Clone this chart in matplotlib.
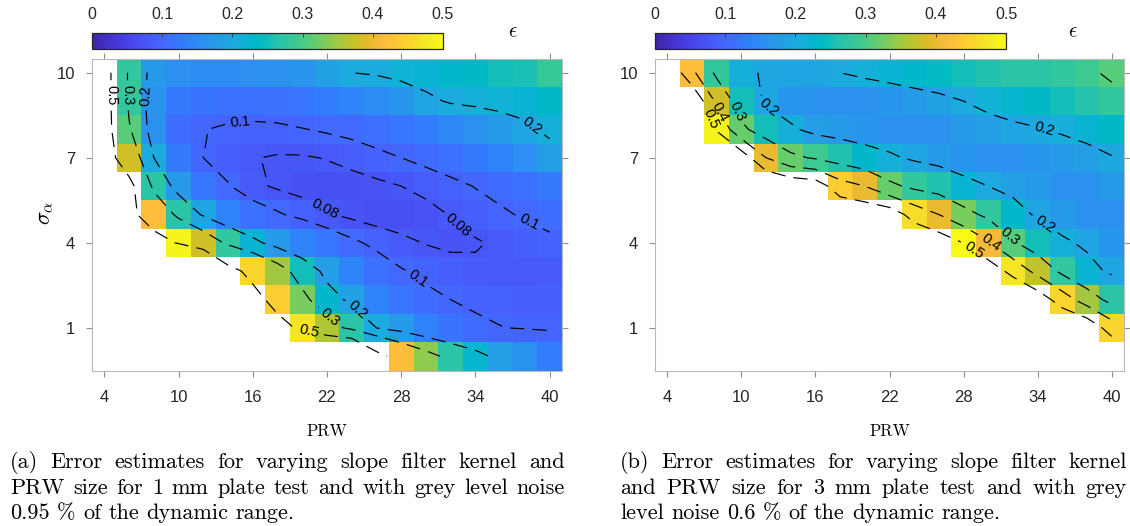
import numpy as np
import matplotlib
matplotlib.use('Agg')
import matplotlib.pyplot as plt
from matplotlib.colors import LinearSegmentedColormap

plt.rcParams['font.family'] = ['Liberation Sans', 'DejaVu Sans']
plt.rcParams['mathtext.fontset'] = 'cm'

# dados (linhas de sigma=10 ate sigma=0)
prw = [4, 6, 8, 10, 12, 14, 16, 18, 20, 22, 24, 26, 28, 30, 32, 34, 36, 38, 40]
sigma = [10, 9, 8, 7, 6, 5, 4, 3, 2, 1, 0]

# celulas brancas = erro acima de 0.5 (fora da escala)
eps_1mm = [
    [0.58, 0.28, 0.17, 0.155, 0.15, 0.15, 0.155, 0.16, 0.165, 0.185, 0.20, 0.205, 0.215, 0.22, 0.23, 0.235, 0.25, 0.255, 0.285],
    [0.58, 0.28, 0.16, 0.125, 0.118, 0.115, 0.115, 0.117, 0.12, 0.13, 0.14, 0.15, 0.165, 0.19, 0.205, 0.21, 0.215, 0.22, 0.235],
    [0.58, 0.31, 0.16, 0.11, 0.101, 0.096, 0.094, 0.095, 0.099, 0.103, 0.107, 0.112, 0.12, 0.13, 0.145, 0.16, 0.175, 0.19, 0.21],
    [0.60, 0.38, 0.20, 0.125, 0.10, 0.088, 0.081, 0.078, 0.078, 0.081, 0.087, 0.094, 0.10, 0.107, 0.115, 0.125, 0.135, 0.155, 0.18],
    [0.90, 0.56, 0.27, 0.17, 0.12, 0.102, 0.085, 0.077, 0.072, 0.07, 0.071, 0.075, 0.08, 0.086, 0.093, 0.101, 0.108, 0.115, 0.125],
    [0.90, 0.54, 0.42, 0.27, 0.19, 0.14, 0.115, 0.103, 0.092, 0.082, 0.075, 0.07, 0.069, 0.073, 0.081, 0.089, 0.096, 0.103, 0.11],
    [0.90, 0.90, 0.56, 0.49, 0.38, 0.28, 0.22, 0.17, 0.14, 0.12, 0.105, 0.094, 0.085, 0.079, 0.076, 0.078, 0.083, 0.088, 0.094],
    [0.90, 0.90, 0.90, 0.90, 0.90, 0.56, 0.45, 0.35, 0.25, 0.18, 0.14, 0.115, 0.102, 0.094, 0.088, 0.084, 0.083, 0.083, 0.084],
    [0.90, 0.90, 0.90, 0.90, 0.90, 0.90, 0.56, 0.44, 0.33, 0.23, 0.185, 0.14, 0.12, 0.107, 0.10, 0.094, 0.09, 0.088, 0.088],
    [0.90, 0.90, 0.90, 0.90, 0.90, 0.90, 0.90, 0.56, 0.47, 0.36, 0.27, 0.20, 0.17, 0.135, 0.118, 0.107, 0.101, 0.098, 0.097],
    [0.90, 0.90, 0.90, 0.90, 0.90, 0.90, 0.90, 0.90, 0.90, 0.90, 0.90, 0.56, 0.42, 0.34, 0.27, 0.225, 0.18, 0.16, 0.13],
]

eps_3mm = [
    [0.60, 0.42, 0.28, 0.21, 0.195, 0.19, 0.19, 0.20, 0.21, 0.22, 0.23, 0.24, 0.25, 0.26, 0.27, 0.27, 0.28, 0.29, 0.31],
    [0.70, 0.60, 0.38, 0.25, 0.19, 0.165, 0.16, 0.16, 0.16, 0.165, 0.175, 0.185, 0.20, 0.215, 0.225, 0.235, 0.25, 0.265, 0.28],
    [0.80, 0.65, 0.49, 0.32, 0.25, 0.21, 0.18, 0.17, 0.165, 0.16, 0.16, 0.16, 0.17, 0.18, 0.19, 0.197, 0.207, 0.22, 0.235],
    [0.90, 0.80, 0.65, 0.56, 0.40, 0.32, 0.29, 0.26, 0.23, 0.21, 0.19, 0.175, 0.165, 0.16, 0.16, 0.165, 0.17, 0.18, 0.197],
    [0.90, 0.90, 0.80, 0.70, 0.62, 0.58, 0.56, 0.44, 0.40, 0.32, 0.28, 0.26, 0.22, 0.20, 0.18, 0.17, 0.16, 0.16, 0.17],
    [0.90, 0.90, 0.90, 0.90, 0.80, 0.70, 0.65, 0.60, 0.58, 0.56, 0.46, 0.40, 0.33, 0.28, 0.23, 0.19, 0.17, 0.16, 0.16],
    [0.90, 0.90, 0.90, 0.90, 0.90, 0.90, 0.90, 0.80, 0.70, 0.65, 0.60, 0.56, 0.498, 0.41, 0.31, 0.25, 0.21, 0.19, 0.165],
    [0.90, 0.90, 0.90, 0.90, 0.90, 0.90, 0.90, 0.90, 0.90, 0.90, 0.80, 0.70, 0.62, 0.56, 0.47, 0.37, 0.28, 0.22, 0.19],
    [0.90, 0.90, 0.90, 0.90, 0.90, 0.90, 0.90, 0.90, 0.90, 0.90, 0.90, 0.90, 0.80, 0.70, 0.62, 0.56, 0.45, 0.35, 0.27],
    [0.90, 0.90, 0.90, 0.90, 0.90, 0.90, 0.90, 0.90, 0.90, 0.90, 0.90, 0.90, 0.90, 0.90, 0.80, 0.70, 0.62, 0.58, 0.45],
    [0.90, 0.90, 0.90, 0.90, 0.90, 0.90, 0.90, 0.90, 0.90, 0.90, 0.90, 0.90, 0.90, 0.90, 0.90, 0.90, 0.80, 0.70, 0.62],
]

niveis_1mm = [0.08, 0.1, 0.2, 0.3, 0.5]
niveis_3mm = [0.2, 0.3, 0.4, 0.5]

# onde ficam os rotulos das curvas
rotulos_1mm = [(4.5, 9.2), (20.5, 0.8),
               (5.9, 9.2), (22.3, 1.4),
               (7.5, 9.2), (38.0, 7.8), (24.6, 1.7),
               (15.0, 8.1), (38.3, 4.7), (29.3, 2.7),
               (21.8, 5.2), (32.4, 4.5)]
rotulos_3mm = [(7.2, 8.3), (28.9, 3.8),
               (7.8, 8.5), (30.0, 3.9),
               (9.5, 8.6), (31.5, 4.1),
               (12.3, 8.8), (34.5, 8.0), (34.5, 4.6)]

xticks = [4, 10, 16, 22, 28, 34, 40]
yticks = [1, 4, 7, 10]
cb_ticks = [0, 0.1, 0.2, 0.3, 0.4, 0.5]
cb_labels = ['0', '0.1', '0.2', '0.3', '0.4', '0.5']

legenda_a = ["(a) Error estimates for varying slope filter kernel and",
             "PRW size for 1 mm plate test and with grey level noise",
             "0.95 % of the dynamic range."]
legenda_b = ["(b) Error estimates for varying slope filter kernel",
             "and PRW size for 3 mm plate test and with grey",
             "level noise 0.6 % of the dynamic range."]

# parula (64 cores)
parula_cores = [
    [0.2422, 0.1504, 0.6603], [0.2504, 0.1650, 0.7076], [0.2578, 0.1818, 0.7511], [0.2647, 0.1978, 0.7952],
    [0.2706, 0.2147, 0.8364], [0.2751, 0.2342, 0.8710], [0.2783, 0.2559, 0.8991], [0.2803, 0.2782, 0.9221],
    [0.2813, 0.3006, 0.9414], [0.2810, 0.3228, 0.9579], [0.2795, 0.3447, 0.9717], [0.2760, 0.3667, 0.9829],
    [0.2699, 0.3892, 0.9906], [0.2602, 0.4123, 0.9952], [0.2440, 0.4358, 0.9988], [0.2206, 0.4603, 0.9973],
    [0.1963, 0.4847, 0.9892], [0.1834, 0.5074, 0.9798], [0.1786, 0.5289, 0.9682], [0.1764, 0.5499, 0.9520],
    [0.1687, 0.5703, 0.9359], [0.1540, 0.5902, 0.9218], [0.1460, 0.6091, 0.9079], [0.1380, 0.6276, 0.8973],
    [0.1248, 0.6459, 0.8883], [0.1113, 0.6635, 0.8763], [0.0952, 0.6798, 0.8598], [0.0689, 0.6948, 0.8394],
    [0.0297, 0.7082, 0.8163], [0.0036, 0.7203, 0.7917], [0.0067, 0.7312, 0.7660], [0.0433, 0.7411, 0.7394],
    [0.0964, 0.7500, 0.7120], [0.1408, 0.7584, 0.6842], [0.1717, 0.7670, 0.6554], [0.1938, 0.7758, 0.6251],
    [0.2161, 0.7843, 0.5923], [0.2470, 0.7918, 0.5567], [0.2906, 0.7973, 0.5188], [0.3406, 0.8008, 0.4789],
    [0.3909, 0.8029, 0.4354], [0.4456, 0.8024, 0.3909], [0.5044, 0.7993, 0.3480], [0.5616, 0.7942, 0.3045],
    [0.6174, 0.7876, 0.2612], [0.6720, 0.7793, 0.2227], [0.7242, 0.7698, 0.1910], [0.7738, 0.7598, 0.1646],
    [0.8203, 0.7498, 0.1535], [0.8634, 0.7406, 0.1596], [0.9035, 0.7330, 0.1774], [0.9393, 0.7288, 0.2100],
    [0.9728, 0.7298, 0.2394], [0.9956, 0.7434, 0.2371], [0.9970, 0.7659, 0.2199], [0.9952, 0.7893, 0.2028],
    [0.9892, 0.8136, 0.1885], [0.9786, 0.8386, 0.1766], [0.9676, 0.8639, 0.1643], [0.9610, 0.8890, 0.1537],
    [0.9597, 0.9135, 0.1423], [0.9628, 0.9373, 0.1265], [0.9691, 0.9606, 0.1064], [0.9769, 0.9839, 0.0805]]
parula = LinearSegmentedColormap.from_list('parula', parula_cores, N=256)

W, H = 1130, 526
fig = plt.figure(figsize=(W / 100, H / 100), dpi=100)


def caixa(x0, y0, x1, y1):
    # pixels -> fracao da figura
    return [x0 / W, 1 - y1 / H, (x1 - x0) / W, (y1 - y0) / H]


def GerarPainel(ax, cax, z, niveis, rotulos, eps_x, prw_x, ylabel):
    z = np.array(z)
    zm = np.ma.masked_where(z > 0.5, z)
    im = ax.pcolormesh(prw, sigma, zm, cmap=parula, vmin=0, vmax=0.5, shading='nearest')
    cs = ax.contour(prw, sigma, z, levels=niveis, colors='k', linewidths=0.85)
    cs.set_linestyle((0, (12, 7)))
    cs.clabel(manual=rotulos, inline=True, fmt='%g', fontsize=10.5)
    ax.set_xlim(3, 41)
    ax.set_ylim(-0.5, 10.5)
    ax.set_xticks(xticks)
    ax.set_yticks(yticks)
    ax.tick_params(direction='out', length=4, width=0.8, color='0.55', labelcolor='0.15',
                   labelsize=12, top=True, right=True)
    ax.tick_params(axis='x', pad=10)
    ax.tick_params(axis='y', pad=8)
    for s in ax.spines.values():
        s.set_color('0.72')
        s.set_linewidth(0.8)

    cb = fig.colorbar(im, cax=cax, orientation='horizontal', ticks=cb_ticks)
    cb.set_ticklabels(cb_labels)
    cax.xaxis.set_ticks_position('top')
    cax.tick_params(direction='in', length=3, width=0.6, color='0.2', labelsize=11.5,
                    labelcolor='0.15', pad=8)
    cb.outline.set_edgecolor('0.15')
    cb.outline.set_linewidth(0.9)

    fig.text(eps_x / W, 1 - 32 / H, r'$\epsilon$', fontsize=15, ha='center', va='center')
    fig.text(prw_x / W, 1 - 431 / H, 'PRW', family=['cmr10', 'DejaVu Serif'], fontsize=12,
             ha='center', va='center')
    if ylabel:
        fig.text(46 / W, 1 - 213 / H, r'$\sigma_\alpha$', fontsize=16, rotation=90,
                 ha='center', va='center')


def Legenda(linhas, x0, x1, ys, tam):
    # texto justificado como no LaTeX
    r = fig.canvas.get_renderer()
    espaco = 0.333 * tam * 100 / 72
    for i, (linha, y) in enumerate(zip(linhas, ys)):
        palavras = linha.split(' ')
        ts = [fig.text(0, 1 - y / H, p, family=['cmr10', 'DejaVu Serif'], fontsize=tam,
                       va='center', ha='left') for p in palavras]
        larg = [t.get_window_extent(r).width for t in ts]
        if i == len(linhas) - 1:
            gap = espaco
        else:
            gap = (x1 - x0 - sum(larg)) / (len(palavras) - 1)
        x = x0
        for t, w in zip(ts, larg):
            t.set_x(x / W)
            x += w + gap


ax1 = fig.add_axes(caixa(92, 58.5, 562, 370.5))
cax1 = fig.add_axes(caixa(92, 33, 443, 49))
ax2 = fig.add_axes(caixa(655, 58.5, 1124, 370.5))
cax2 = fig.add_axes(caixa(655, 33, 1006, 49))

GerarPainel(ax1, cax1, eps_1mm, niveis_1mm, rotulos_1mm, 513, 327, True)
GerarPainel(ax2, cax2, eps_3mm, niveis_3mm, rotulos_3mm, 1073, 890, False)

Legenda(legenda_a, 10, 565, [462, 488, 513], 16)
Legenda(legenda_b, 620, 1127, [462, 488, 513], 16)

fig.savefig('out.png', dpi=100)
